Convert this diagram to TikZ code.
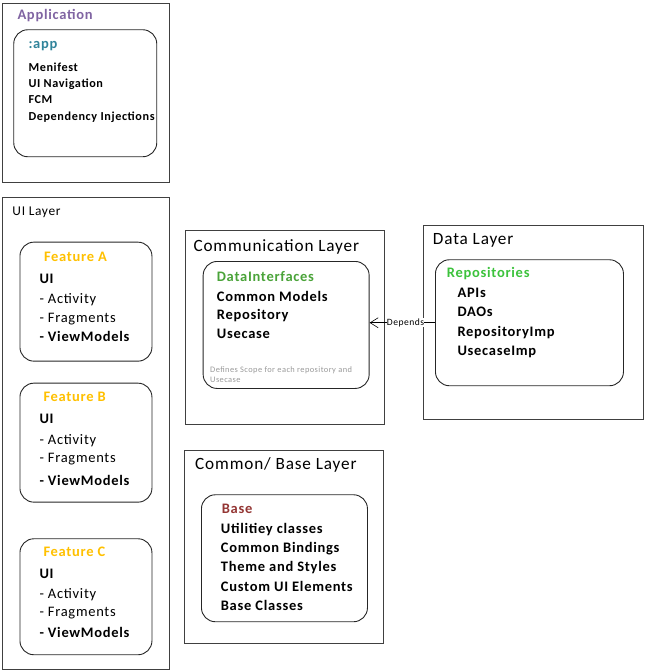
\documentclass[tikz,border=0pt]{standalone}
\usepackage{fontspec}
\setmainfont[LetterSpace=5]{Carlito}
\usetikzlibrary{arrows.meta}

\definecolor{apppurple}{HTML}{8064A2}
\definecolor{appteal}{HTML}{31849B}
\definecolor{featyellow}{HTML}{FFC000}
\definecolor{ifgreen}{HTML}{4AA339}
\definecolor{repogreen}{HTML}{3CC23C}
\definecolor{basered}{HTML}{943634}

\tikzset{
  layer/.style={draw=black!75, line width=1.1pt, anchor=north west, inner sep=0pt},
  panel/.style={draw=black!85, line width=0.9pt, rounded corners=14pt, anchor=north west, inner sep=0pt},
  txt/.style={anchor=base west, inner sep=0pt},
  big/.style={txt, font=\fontsize{17.2}{20}\selectfont},
  item/.style={txt, font=\fontsize{14.5}{17}\selectfont\bfseries},
  plain/.style={txt, font=\fontsize{14.5}{17}\selectfont},
  small/.style={txt, font=\fontsize{12.2}{15}\selectfont\bfseries},
  note/.style={txt, font=\fontsize{8.4}{10}\selectfont, text=black!40},
}

\begin{document}
\begin{tikzpicture}[x=1pt, y=-1pt]
\useasboundingbox (0,0) rectangle (646,671);

%% layers
\node[layer, minimum width=167pt, minimum height=179pt] (appL) at (1.7,2.7) {};
\node[layer, minimum width=167pt, minimum height=472pt] (uiL) at (1.7,196.7) {};
\node[layer, minimum width=199pt, minimum height=194pt] (commL) at (185,230) {};
\node[layer, minimum width=220pt, minimum height=194pt] (dataL) at (423.3,225) {};
\node[layer, minimum width=199pt, minimum height=193pt] (baseL) at (184.3,450) {};

%% panels
\node[panel, minimum width=143pt, minimum height=127pt] (app) at (13.3,29.3) {};
\node[panel, minimum width=132pt, minimum height=119pt] (featA) at (19.5,241.7) {};
\node[panel, minimum width=132pt, minimum height=119pt] (featB) at (19.5,382.7) {};
\node[panel, minimum width=132pt, minimum height=116pt] (featC) at (19.5,538.3) {};
\node[panel, minimum width=166pt, minimum height=127pt] (dataif) at (202.7,261) {};
\node[panel, minimum width=188pt, minimum height=126pt] (repo) at (435,259.3) {};
\node[panel, minimum width=166pt, minimum height=127pt] (base) at (201,494.3) {};

%% application
\node[item, text=apppurple] (appT) at (17.3,20) {Application};
\node[item, text=appteal] (app0) at (28.3,48.3) {:app};
\node[small] (app1) at (28.3,71.7) {Menifest};
\node[small] (app2) at (28.3,87.3) {UI Navigation};
\node[small] (app3) at (28.3,103.3) {FCM};
\node[small] (app4) at (28.3,120.3) {Dependency Injections};

%% ui layer
\node[txt, font=\fontsize{13.4}{16}\selectfont] (uiT) at (12.3,215) {UI Layer};

\node[item, text=featyellow] (featA0) at (43.8,261) {Feature A};
\node[item] (featA1) at (39.3,283.7) {UI};
\node[plain] (featA2) at (39.3,303.7) {- Activity};
\node[plain] (featA3) at (39.3,322.3) {- Fragments};
\node[item] (featA4) at (39.3,341.7) {- ViewModels};

\node[item, text=featyellow] (featB0) at (43.3,401.7) {Feature B};
\node[item] (featB1) at (39.3,423.3) {UI};
\node[plain] (featB2) at (39.3,444) {- Activity};
\node[plain] (featB3) at (39.3,462.7) {- Fragments};
\node[item] (featB4) at (39.3,485) {- ViewModels};

\node[item, text=featyellow] (featC0) at (43.3,556.7) {Feature C};
\node[item] (featC1) at (39.3,578.3) {UI};
\node[plain] (featC2) at (39.3,598.3) {- Activity};
\node[plain] (featC3) at (39.3,616.7) {- Fragments};
\node[item] (featC4) at (39.3,637.3) {- ViewModels};

%% communication layer
\node[big] (commT) at (193.3,251) {Communication Layer};
\node[item, text=ifgreen] (if0) at (216.7,281) {DataInterfaces};
\node[item] (if1) at (216.7,301) {Common Models};
\node[item] (if2) at (216.7,319.3) {Repository};
\node[item] (if3) at (216.7,338.3) {Usecase};
\node[note] (ifN1) at (210,372.3) {Defines Scope for each repository and};
\node[note] (ifN2) at (210,382.3) {Usecase};

%% data layer
\node[big] (dataT) at (432.7,244) {Data Layer};
\node[item, text=repogreen] (repo0) at (446.7,277.3) {Repositories};
\node[item] (repo1) at (457.3,297.3) {APIs};
\node[item] (repo2) at (457.3,316.7) {DAOs};
\node[item] (repo3) at (457.3,336) {RepositoryImp};
\node[item] (repo4) at (457.3,355) {UsecaseImp};

%% common / base layer
\node[big] (baseT) at (195,469) {Common/ Base Layer};
\node[item, text=basered] (base0) at (221.7,513.3) {Base};
\node[item] (base1) at (220.7,533.3) {Utilitiey classes};
\node[item] (base2) at (220.7,552.3) {Common Bindings};
\node[item] (base3) at (220.7,571.7) {Theme and Styles};
\node[item] (base4) at (220.7,591.7) {Custom UI Elements};
\node[item] (base5) at (220.7,610.7) {Base Classes};

%% dependency
\draw[-{Straight Barb[length=8pt, width=10pt]}, line width=0.6pt] (repo.west) -- (repo.west -| dataif.east)
  node [pos=0.45, fill=white, inner sep=0.3pt, font=\fontsize{9.6}{12}\selectfont] (dep) {Depends};

\end{tikzpicture}
\end{document}
